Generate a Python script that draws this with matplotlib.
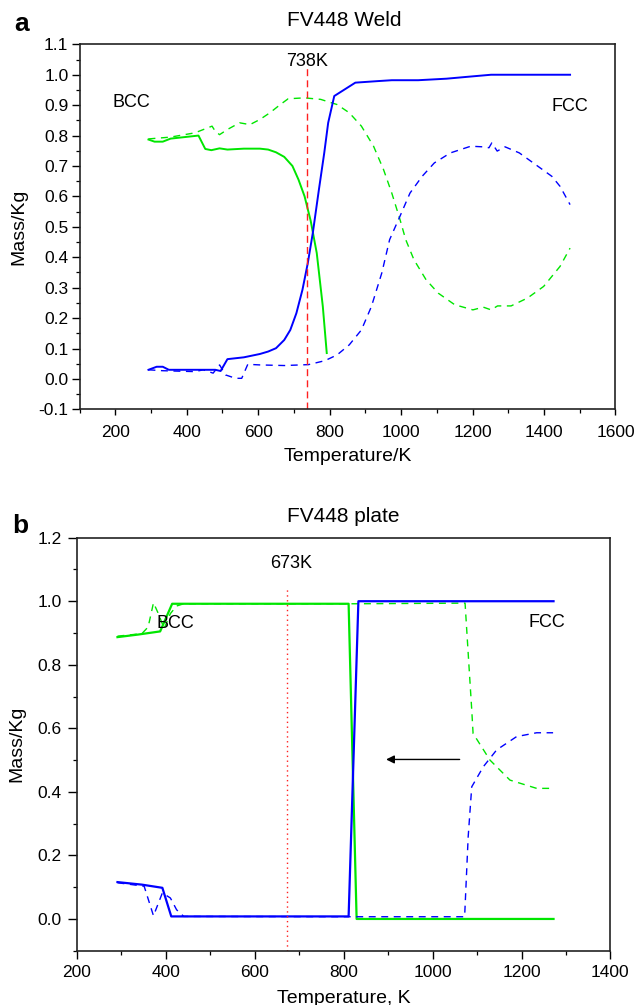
import matplotlib
matplotlib.use('Agg')
import matplotlib.pyplot as plt
from matplotlib.ticker import MultipleLocator, FormatStrFormatter

plt.rcParams['font.family'] = ['Liberation Sans', 'DejaVu Sans']
plt.rcParams['axes.unicode_minus'] = False

# Panel a - FV448 Weld
weld_bcc_solid_T = [293, 310, 333, 355, 433, 452, 469, 492, 514, 560, 605, 628, 650, 673, 696, 713, 730, 747, 764, 781, 792]
weld_bcc_solid_m = [0.787, 0.780, 0.780, 0.790, 0.800, 0.756, 0.752, 0.758, 0.754, 0.757, 0.757, 0.754, 0.745, 0.730, 0.700, 0.655, 0.600, 0.520, 0.414, 0.238, 0.085]

weld_bcc_dash_T = [293, 355, 423, 471, 480, 492, 514, 548, 577, 605, 633, 662, 684, 730, 775, 821, 855, 889, 923, 951, 974, 997, 1013, 1036, 1070, 1104, 1150, 1201, 1230, 1252, 1270, 1286, 1308, 1354, 1399, 1445, 1473]
weld_bcc_dash_m = [0.789, 0.795, 0.809, 0.831, 0.814, 0.803, 0.820, 0.842, 0.836, 0.853, 0.875, 0.902, 0.921, 0.924, 0.919, 0.902, 0.875, 0.831, 0.765, 0.688, 0.611, 0.524, 0.458, 0.392, 0.326, 0.282, 0.244, 0.227, 0.236, 0.227, 0.240, 0.240, 0.240, 0.266, 0.304, 0.370, 0.430]

weld_fcc_solid_T = [293, 316, 333, 350, 435, 480, 495, 514, 560, 605, 628, 650, 673, 690, 707, 724, 739, 753, 770, 785, 796, 813, 872, 934, 974, 1048, 1127, 1184, 1252, 1473]
weld_fcc_solid_m = [0.030, 0.040, 0.040, 0.030, 0.030, 0.030, 0.026, 0.065, 0.071, 0.082, 0.090, 0.101, 0.128, 0.161, 0.216, 0.293, 0.381, 0.480, 0.622, 0.743, 0.842, 0.930, 0.974, 0.979, 0.982, 0.982, 0.987, 0.993, 1.000, 1.000]

weld_fcc_dash_T = [293, 333, 424, 446, 474, 492, 509, 537, 554, 571, 605, 673, 741, 787, 821, 855, 889, 917, 946, 968, 997, 1025, 1059, 1093, 1138, 1195, 1229, 1246, 1254, 1269, 1291, 1331, 1376, 1422, 1445, 1473]
weld_fcc_dash_m = [0.030, 0.027, 0.024, 0.030, 0.019, 0.046, 0.013, 0.002, 0.002, 0.048, 0.046, 0.044, 0.047, 0.060, 0.079, 0.112, 0.161, 0.238, 0.348, 0.458, 0.535, 0.611, 0.666, 0.710, 0.743, 0.765, 0.763, 0.760, 0.776, 0.749, 0.763, 0.743, 0.705, 0.666, 0.633, 0.573]

weld_line_T = 738

# Panel b - FV448 plate
plate_bcc_solid_T = [291, 337, 387, 414, 811, 829, 1272]
plate_bcc_solid_m = [0.887, 0.895, 0.905, 0.992, 0.992, 0.0, 0.0]

plate_bcc_dash_T = [291, 346, 360, 372, 383, 396, 410, 424, 440, 830, 1073, 1080, 1088, 1091, 1129, 1174, 1234, 1271]
plate_bcc_dash_m = [0.890, 0.898, 0.919, 0.995, 0.961, 0.914, 0.961, 0.985, 0.992, 0.992, 0.994, 0.836, 0.658, 0.584, 0.500, 0.437, 0.411, 0.411]

plate_fcc_solid_T = [291, 346, 392, 412, 811, 833, 1272]
plate_fcc_solid_m = [0.116, 0.108, 0.098, 0.008, 0.008, 1.000, 1.000]

plate_fcc_dash_T = [291, 351, 372, 392, 410, 424, 440, 830, 1072, 1080, 1088, 1114, 1144, 1189, 1234, 1271]
plate_fcc_dash_m = [0.114, 0.103, 0.010, 0.082, 0.066, 0.029, 0.008, 0.007, 0.007, 0.259, 0.416, 0.479, 0.532, 0.574, 0.586, 0.586]

plate_line_T = 673

GREEN = '#00e600'
BLUE = '#0000ff'
RED = '#ff2020'


def style_axes(ax, xpad, ypad, ylen):
    for sp in ax.spines.values():
        sp.set_linewidth(1.2)
        sp.set_color('#222222')
    ax.tick_params(which='major', direction='out', width=1.0, labelsize=12.5)
    ax.tick_params(which='minor', direction='out', length=3, width=0.9)
    ax.tick_params(axis='x', which='major', length=4.5, pad=xpad)
    ax.tick_params(axis='y', which='major', length=ylen, pad=ypad)


fig = plt.figure(figsize=(6.35, 10.05), dpi=100)

# ---- panel a
ax1 = fig.add_axes([0.1252, 0.5927, 0.844, 0.3632])
ax1.plot(weld_bcc_solid_T, weld_bcc_solid_m, color=GREEN, lw=1.4)
ax1.plot(weld_bcc_dash_T, weld_bcc_dash_m, color=GREEN, lw=1.0, ls=(0, (5, 4)))
ax1.plot(weld_fcc_solid_T, weld_fcc_solid_m, color=BLUE, lw=1.4)
ax1.plot(weld_fcc_dash_T, weld_fcc_dash_m, color=BLUE, lw=1.0, ls=(0, (5, 4)))
ax1.plot([weld_line_T, weld_line_T], [-0.1, 1.022], color=RED, lw=1.0, ls=(0, (5, 3)))
ax1.set_xlim(100, 1600)
ax1.set_ylim(-0.1, 1.1)
ax1.xaxis.set_major_locator(MultipleLocator(200))
ax1.xaxis.set_minor_locator(MultipleLocator(100))
ax1.yaxis.set_major_locator(MultipleLocator(0.1))
ax1.yaxis.set_minor_locator(MultipleLocator(0.05))
ax1.yaxis.set_major_formatter(FormatStrFormatter('%.1f'))
ax1.set_xticks(range(200, 1601, 200))
style_axes(ax1, xpad=6.5, ypad=2.5, ylen=5.5)
ax1.set_xlabel('Temperature/K', fontsize=14)
ax1.set_ylabel('Mass/Kg', fontsize=14)
ax1.xaxis.set_label_coords(0.5, -0.106)
ax1.yaxis.set_label_coords(-0.098, 0.5)
ax1.text(weld_line_T, 1.045, '738K', fontsize=13, ha='center', va='center')
ax1.text(246, 0.91, 'BCC', fontsize=13, ha='center', va='center')
ax1.text(1473, 0.897, 'FCC', fontsize=13, ha='center', va='center')
fig.text(344 / 635, 1 - 21 / 1005, 'FV448 Weld', fontsize=15, ha='center', va='center')
fig.text(22 / 635, 1 - 24 / 1005, 'a', fontsize=19, fontweight='bold', ha='center', va='center')

# ---- panel b
ax2 = fig.add_axes([0.1213, 0.054, 0.840, 0.411])
ax2.plot(plate_bcc_solid_T, plate_bcc_solid_m, color=GREEN, lw=1.6)
ax2.plot(plate_bcc_dash_T, plate_bcc_dash_m, color=GREEN, lw=1.0, ls=(0, (5, 4)))
ax2.plot(plate_fcc_solid_T, plate_fcc_solid_m, color=BLUE, lw=1.6)
ax2.plot(plate_fcc_dash_T, plate_fcc_dash_m, color=BLUE, lw=1.0, ls=(0, (5, 4)))
ax2.plot([plate_line_T, plate_line_T], [-0.1, 1.038], color=RED, lw=1.0, ls=(0, (1, 2.5)))
ax2.annotate('', xy=(889, 0.502), xytext=(1067, 0.502),
             arrowprops=dict(arrowstyle='-|>', color='black', lw=1.0, mutation_scale=12))
ax2.set_xlim(200, 1400)
ax2.set_ylim(-0.1, 1.2)
ax2.xaxis.set_major_locator(MultipleLocator(200))
ax2.xaxis.set_minor_locator(MultipleLocator(100))
ax2.set_yticks([0.0, 0.2, 0.4, 0.6, 0.8, 1.0, 1.2])
ax2.yaxis.set_minor_locator(MultipleLocator(0.1))
ax2.yaxis.set_major_formatter(FormatStrFormatter('%.1f'))
style_axes(ax2, xpad=5, ypad=4.5, ylen=6.5)
ax2.tick_params(axis='x', which='major', length=5.5)
ax2.set_xlabel('Temperature, K', fontsize=14)
ax2.set_ylabel('Mass/Kg', fontsize=14)
ax2.xaxis.set_label_coords(0.5, -0.095)
ax2.yaxis.set_label_coords(-0.0975, 0.5)
ax2.text(682, 1.119, '673K', fontsize=13, ha='center', va='center')
ax2.text(421, 0.929, 'BCC', fontsize=13, ha='center', va='center')
ax2.text(1258, 0.933, 'FCC', fontsize=13, ha='center', va='center')
fig.text(343 / 635, 1 - 517 / 1005, 'FV448 plate', fontsize=15, ha='center', va='center')
fig.text(20 / 635, 1 - 526 / 1005, 'b', fontsize=19, fontweight='bold', ha='center', va='center')

fig.savefig('out.png', dpi=100)
